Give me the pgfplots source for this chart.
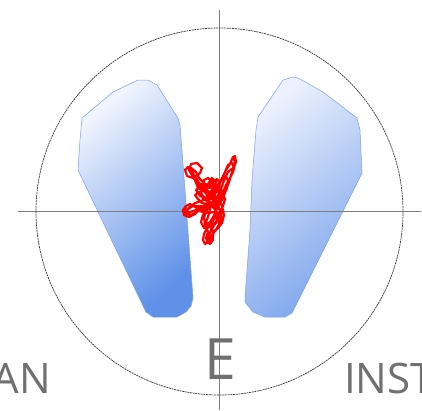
\documentclass[border=0pt]{standalone}
\usepackage{pgfplots}
\pgfplotsset{compat=1.18}
\usepackage{fontspec}
\setmainfont{Open Sans}
\definecolor{txtgray}{RGB}{112,112,112}
\definecolor{axgray}{RGB}{125,125,125}
\definecolor{circgray}{RGB}{55,55,55}
\definecolor{edgeblue}{RGB}{120,160,238}
\definecolor{lightA}{RGB}{240,244,253}
\definecolor{darkA}{RGB}{95,145,232}
\definecolor{lightB}{RGB}{236,241,253}
\definecolor{darkB}{RGB}{125,165,236}
\definecolor{trace}{RGB}{255,0,0}
\begin{document}
\begin{tikzpicture}
\begin{axis}[
  width=422pt, height=410pt, scale only axis,
  xmin=0, xmax=422, ymin=0, ymax=410,
  y dir=reverse,
  axis lines=none,
  clip=true,
]
% left zone
\addplot[draw=edgeblue, line width=0.5pt, top color=lightA, bottom color=darkA, shading angle=40]
 coordinates {(82,118) (113,92) (138,80) (148,80) (157,85) (178,118) (180,125) (185,190) (193,298) (191,306) (186,312) (177,317) (153,317) (146,312) (78,170) (80,140)} -- cycle;
% right zone
\addplot[draw=edgeblue, line width=0.5pt, top color=lightB, bottom color=darkB, shading angle=40]
 coordinates {(258,117) (283,80) (293,77) (298,78) (323,92) (357,118) (360,130) (362,173) (292,313) (285,317) (265,317) (253,312) (245,302) (245,297) (250,230) (252,180) (256,130)} -- cycle;
% cross lines
\addplot[axgray, line width=0.8pt] coordinates {(219.5,10) (219.5,410)};
\addplot[axgray, line width=0.8pt] coordinates {(18,211.5) (421,211.5)};
% circle
\draw[circgray, line width=0.7pt, dash pattern=on 2pt off 0.7pt] (axis cs:219.5,211.5) circle [radius=183.5];
% texts
\node[txtgray, anchor=base, inner sep=0pt, font=\fontsize{57}{60}\selectfont] at (axis cs:220,379) {E};
\node[txtgray, anchor=base east, inner sep=0pt, font=\fontsize{42}{46}\selectfont] at (axis cs:51,393) {AN};
\node[txtgray, anchor=base west, inner sep=0pt, font=\fontsize{42}{46}\selectfont] at (axis cs:344,393) {INST};
% trace
\addplot[trace, line width=2.2pt, line join=round] coordinates {
(210,200) (205,192) (198,188) (195,180) (192,172) (188,167) (185,170) (187,176) (193,178) (200,173) (202,168) (197,163) (191,164) (189,170) (196,182) (203,190) (208,184) (212,178) (216,182) (213,192) (207,198) (200,196) (196,190) (201,186) (210,188) (218,186) (222,178) (226,170) (230,164) (233,157) (235,156) (236,162) (233,168) (228,172) (225,178) (222,186) (219,194) (215,200) (210,206) (204,210) (197,208) (190,204) (186,206) (183,210) (184,215) (189,217) (195,214) (199,209) (204,206) (210,205) (215,209) (218,215) (216,222) (212,226) (207,228) (204,234) (203,240) (205,244) (209,241) (212,235) (216,230) (219,224) (221,217) (220,210) (217,204) (212,199) (208,195) (212,190) (218,192) (223,196) (226,190) (229,182) (231,175) (234,168) (232,163) (228,165) (225,172) (221,180) (217,186) (213,193) (210,199) (206,204) (202,203) (198,199) (195,195) (199,192) (204,197) (208,203) (210,210) (208,217) (206,222) (209,226) (213,221) (216,215) (215,208) (211,204) (207,210) (204,217) (205,224) (208,232) (206,238) (208,243) (212,238) (214,231) (218,228) (222,223) (224,215) (222,206) (219,199) (215,196) (211,196) (206,199) (201,201) (195,203) (190,207) (186,210) (185,214) (190,212) (196,210) (203,212) (209,213) (214,212) (218,207) (221,201) (224,195) (227,188) (228,181) (226,176) (222,179) (219,185) (216,191) (214,186) (212,181) (208,178) (204,180) (203,186) (206,191) (210,193) (214,198) (218,203) (222,200) (224,194)
(220,188) (215,185) (209,186) (204,183) (199,178) (196,172) (191,168) (194,175) (199,183) (205,186) (211,183) (217,179) (220,183) (218,190) (214,195) (209,192) (205,188) (201,192) (203,199) (209,201) (214,205) (219,209) (222,213) (219,219) (215,224) (211,230) (209,236) (207,240) (210,244) (213,240) (213,232) (210,225) (212,219) (216,212) (213,206) (208,208) (203,215) (201,222) (204,228) (210,222) (214,216) (220,212) (223,206) (225,199) (222,193) (217,197) (212,203) (207,207) (200,206) (193,206) (188,209) (186,213) (191,215) (197,212) (203,208) (209,208) (216,204) (221,197) (226,185) (230,178) (233,172) (235,164) (234,158)
};
\end{axis}
\pgfresetboundingbox
\useasboundingbox (current axis.south west) rectangle (current axis.north east);
\end{tikzpicture}
\end{document}
